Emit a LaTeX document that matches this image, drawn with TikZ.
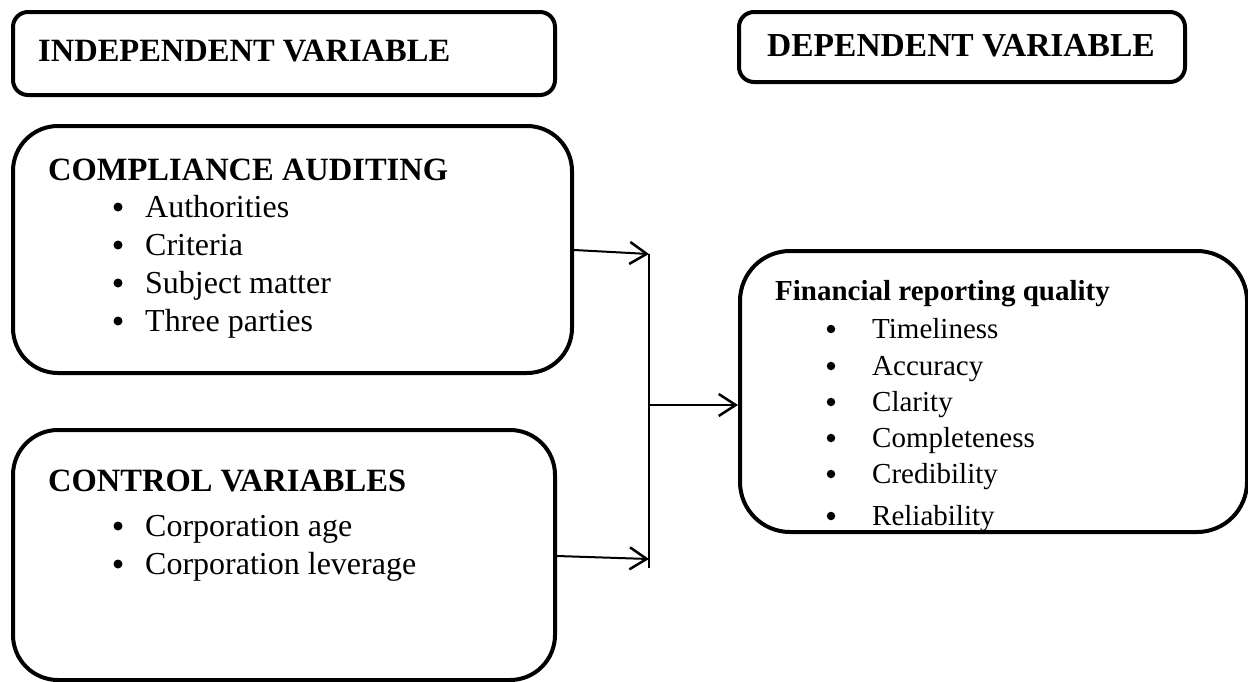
\documentclass[tikz,border=0pt]{standalone}
\usepackage{fontspec}
\setmainfont{Liberation Serif}
\usetikzlibrary{arrows.meta}
\begin{document}
\begin{tikzpicture}[x=1pt,y=-1pt,
  box/.style={draw, line width=4pt, rounded corners=#1, anchor=north west, inner sep=0pt},
  head/.style={anchor=base west, inner sep=0pt, font=\fontsize{32.5}{38}\selectfont\bfseries},
  headsm/.style={anchor=base west, inner sep=0pt, font=\fontsize{29}{34}\selectfont\bfseries},
  item/.style={anchor=base west, inner sep=0pt, font=\fontsize{32}{38}\selectfont},
  itemsm/.style={anchor=base west, inner sep=0pt, font=\fontsize{29}{34}\selectfont},
  dot/.style={circle, fill=black, inner sep=0pt, minimum size=#1},
  conn/.style={line width=2pt},
  arr/.style={line width=2pt, -{Straight Barb[length=17pt, width=22pt, line width=2.5pt]}}]
\fill[white] (0,0) rectangle (1248,681);
\useasboundingbox (0,0) rectangle (1248,681);
% boxes
\node[box=15pt, minimum width=542pt, minimum height=83pt] (iv) at (11,10) {};
\node[box=15pt, minimum width=446pt, minimum height=70pt] (dv) at (737,10) {};
\node[box=45pt, minimum width=559pt, minimum height=247pt] (ca) at (11,124) {};
\node[box=45pt, minimum width=542pt, minimum height=250pt] (cv) at (11,428) {};
\node[box=50pt, minimum width=507pt, minimum height=281pt] (frq) at (738,249) {};
% headings
\node[head] (ivt) at (38,61) {INDEPENDENT VARIABLE};
\node[head, font=\fontsize{33.5}{38}\selectfont\bfseries] (dvt) at (767,56) {DEPENDENT VARIABLE};
\node[head] (cat) at (48,180) {COMPLIANCE AUDITING};
\node[head] (cvt) at (48,491) {CONTROL VARIABLES};
\node[headsm] (frqt) at (775,300) {Financial reporting quality};
% left items
\foreach \t/\y [count=\i] in {Authorities/217, Criteria/255, Subject matter/293, Three parties/331}{
  \node[dot=9pt] (cad\i) at (118,\y-10) {};
  \node[item] (ca\i) at (145,\y) {\t};
}
\foreach \t/\y [count=\i] in {Corporation age/536, Corporation leverage/574}{
  \node[dot=9pt] (cvd\i) at (118,\y-10) {};
  \node[item] (cv\i) at (145,\y) {\t};
}
\foreach \t/\y [count=\i] in {Timeliness/338, Accuracy/375, Clarity/411, Completeness/447, Credibility/483, Reliability/525}{
  \node[dot=8.5pt] (frd\i) at (831,\y-9) {};
  \node[itemsm] (fr\i) at (872,\y) {\t};
}
% connectors
\coordinate (jtop) at (649,254);
\coordinate (jbot) at (649,568);
\coordinate (jmid) at (649,405);
\coordinate (jlow) at (649,559);
\draw[conn] (jtop) -- (jbot);
\draw[arr] (ca.east |- 0,250) -- (jtop);
\draw[arr] (cv.east |- 0,556) -- (jlow);
\draw[arr] (jmid) -- (frq.west |- jmid);
\end{tikzpicture}
\end{document}
